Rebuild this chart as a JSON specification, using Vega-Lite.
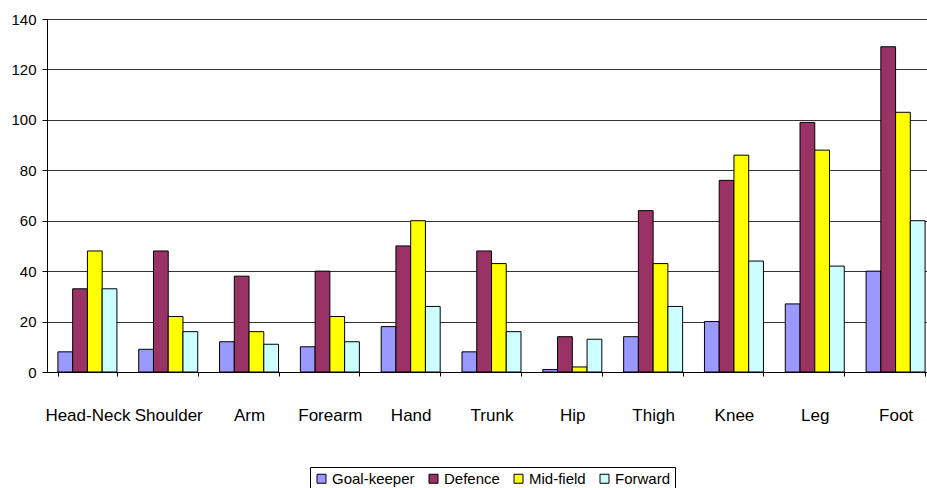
{
  "$schema": "https://vega.github.io/schema/vega-lite/v6.json",
  "autosize": "none",
  "width": 889,
  "height": 353,
  "padding": {"left": 47, "top": 19, "right": -9, "bottom": 116},
  "background": "white",
  "config": {
    "view": {"stroke": null},
    "font": "Liberation Sans",
    "axis": {"labelFont": "Liberation Sans", "labelColor": "#000", "domainColor": "#000", "tickColor": "#000"}
  },
  "data": {
    "values": [
      {"site": "Head-Neck", "position": "Goal-keeper", "injuries": 8},
      {"site": "Head-Neck", "position": "Defence", "injuries": 33},
      {"site": "Head-Neck", "position": "Mid-field", "injuries": 48},
      {"site": "Head-Neck", "position": "Forward", "injuries": 33},
      {"site": "Shoulder", "position": "Goal-keeper", "injuries": 9},
      {"site": "Shoulder", "position": "Defence", "injuries": 48},
      {"site": "Shoulder", "position": "Mid-field", "injuries": 22},
      {"site": "Shoulder", "position": "Forward", "injuries": 16},
      {"site": "Arm", "position": "Goal-keeper", "injuries": 12},
      {"site": "Arm", "position": "Defence", "injuries": 38},
      {"site": "Arm", "position": "Mid-field", "injuries": 16},
      {"site": "Arm", "position": "Forward", "injuries": 11},
      {"site": "Forearm", "position": "Goal-keeper", "injuries": 10},
      {"site": "Forearm", "position": "Defence", "injuries": 40},
      {"site": "Forearm", "position": "Mid-field", "injuries": 22},
      {"site": "Forearm", "position": "Forward", "injuries": 12},
      {"site": "Hand", "position": "Goal-keeper", "injuries": 18},
      {"site": "Hand", "position": "Defence", "injuries": 50},
      {"site": "Hand", "position": "Mid-field", "injuries": 60},
      {"site": "Hand", "position": "Forward", "injuries": 26},
      {"site": "Trunk", "position": "Goal-keeper", "injuries": 8},
      {"site": "Trunk", "position": "Defence", "injuries": 48},
      {"site": "Trunk", "position": "Mid-field", "injuries": 43},
      {"site": "Trunk", "position": "Forward", "injuries": 16},
      {"site": "Hip", "position": "Goal-keeper", "injuries": 1},
      {"site": "Hip", "position": "Defence", "injuries": 14},
      {"site": "Hip", "position": "Mid-field", "injuries": 2},
      {"site": "Hip", "position": "Forward", "injuries": 13},
      {"site": "Thigh", "position": "Goal-keeper", "injuries": 14},
      {"site": "Thigh", "position": "Defence", "injuries": 64},
      {"site": "Thigh", "position": "Mid-field", "injuries": 43},
      {"site": "Thigh", "position": "Forward", "injuries": 26},
      {"site": "Knee", "position": "Goal-keeper", "injuries": 20},
      {"site": "Knee", "position": "Defence", "injuries": 76},
      {"site": "Knee", "position": "Mid-field", "injuries": 86},
      {"site": "Knee", "position": "Forward", "injuries": 44},
      {"site": "Leg", "position": "Goal-keeper", "injuries": 27},
      {"site": "Leg", "position": "Defence", "injuries": 99},
      {"site": "Leg", "position": "Mid-field", "injuries": 88},
      {"site": "Leg", "position": "Forward", "injuries": 42},
      {"site": "Foot", "position": "Goal-keeper", "injuries": 40},
      {"site": "Foot", "position": "Defence", "injuries": 129},
      {"site": "Foot", "position": "Mid-field", "injuries": 103},
      {"site": "Foot", "position": "Forward", "injuries": 60}
    ]
  },
  "mark": {"type": "bar", "stroke": "#000", "strokeWidth": 1},
  "encoding": {
    "x": {
      "field": "site",
      "type": "nominal",
      "sort": null,
      "scale": {"paddingInner": 0.27, "paddingOuter": 0.135},
      "axis": {
        "title": null,
        "labelAngle": 0,
        "labelFontSize": 17,
        "labelPadding": 31,
        "tickBand": "extent",
        "tickSize": 4,
        "grid": false,
        "domainWidth": 1
      }
    },
    "xOffset": {
      "field": "position",
      "type": "nominal",
      "scale": {"domain": ["Goal-keeper", "Defence", "Mid-field", "Forward"], "paddingInner": 0, "paddingOuter": 0}
    },
    "y": {
      "field": "injuries",
      "type": "quantitative",
      "scale": {"domain": [0, 140], "nice": false},
      "axis": {
        "title": null,
        "values": [0, 20, 40, 60, 80, 100, 120, 140],
        "labelFontSize": 15,
        "labelPadding": 6,
        "tickSize": 5,
        "grid": true,
        "gridColor": "#333",
        "gridWidth": 1,
        "gridOpacity": 1
      }
    },
    "color": {
      "field": "position",
      "type": "nominal",
      "scale": {
        "domain": ["Goal-keeper", "Defence", "Mid-field", "Forward"],
        "range": ["#9999FF", "#993366", "#FFFF00", "#CCFFFF"]
      },
      "legend": {
        "title": null,
        "orient": "none",
        "direction": "horizontal",
        "legendX": 263,
        "legendY": 448,
        "symbolType": "square",
        "symbolSize": 81,
        "symbolStrokeColor": "#000",
        "symbolStrokeWidth": 1,
        "labelFontSize": 15,
        "labelFont": "Liberation Sans",
        "labelColor": "#000",
        "labelOffset": 3,
        "columnPadding": 11,
        "padding": 4,
        "strokeColor": "#000",
        "fillColor": "white"
      }
    }
  }
}
